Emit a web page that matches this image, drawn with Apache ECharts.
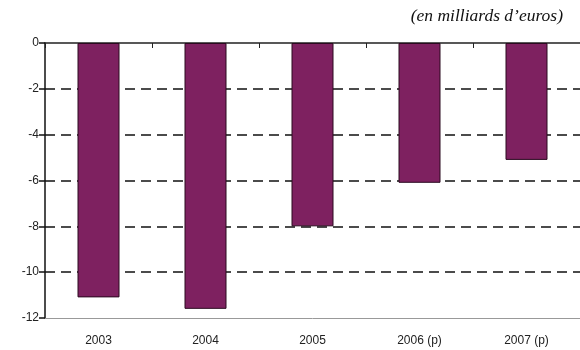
<!DOCTYPE html>
<html>
<head>
<meta charset="utf-8">
<script src="https://cdn.jsdelivr.net/npm/echarts@6/dist/echarts.min.js"></script>
<style>
  html, body { margin: 0; padding: 0; background: #fff; }
  #chart { width: 580px; height: 350px; }
</style>
</head>
<body>
<div id="chart"></div>
<script>
// solde en milliards d'euros
var years = ['2003', '2004', '2005', '2006 (p)', '2007 (p)'];
var values = [-11.1, -11.6, -8.0, -6.1, -5.1];

var myChart = echarts.init(document.getElementById('chart'));

var option = {
  animation: false,
  title: {
    text: '(en milliards d\u2019euros)',
    right: 12,
    top: 2,
    textStyle: {
      fontFamily: 'Liberation Serif',
      fontStyle: 'italic',
      fontWeight: 'normal',
      fontSize: 17.5,
      color: '#111'
    }
  },
  grid: { left: 45, right: 0, top: 43, bottom: 32 },
  xAxis: [
    { // axe du zero en haut
      type: 'category',
      data: years,
      position: 'top',
      axisLine: { onZero: false, lineStyle: { color: '#222', width: 1.5 } },
      axisTick: { show: true, inside: true, length: 5, lineStyle: { color: '#222' } },
      axisLabel: { show: false }
    },
    { // axe du bas, libelles
      type: 'category',
      data: years,
      position: 'bottom',
      axisLine: { onZero: false, lineStyle: { color: '#999', width: 1 } },
      axisTick: { show: false },
      axisLabel: { fontFamily: 'Liberation Sans', fontSize: 12, color: '#222', margin: 17 }
    }
  ],
  yAxis: {
    type: 'value',
    min: -12,
    max: 0,
    interval: 2,
    axisLine: { show: true, lineStyle: { color: '#111', width: 1.5 } },
    axisTick: { show: true, length: 6, lineStyle: { color: '#111', width: 1.5 } },
    axisLabel: { fontFamily: 'Liberation Sans', fontSize: 12, color: '#222', margin: 6 },
    splitLine: {
      show: true,
      showMinLine: false,
      showMaxLine: false,
      lineStyle: { color: '#111', width: 1.5, type: [10, 6] }
    }
  },
  series: [{
    type: 'bar',
    xAxisIndex: 0,
    data: values,
    barWidth: 42,
    itemStyle: { color: '#7E2160', borderColor: '#2a0a1f', borderWidth: 1 }
  }]
};

myChart.setOption(option);
</script>
</body>
</html>
